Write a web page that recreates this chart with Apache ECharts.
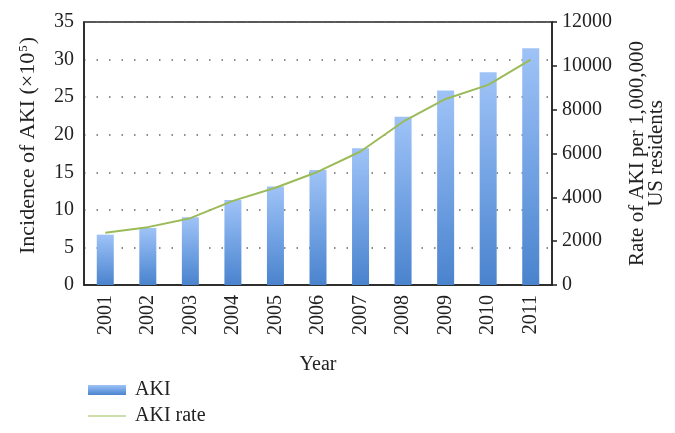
<!DOCTYPE html>
<html><head><meta charset="utf-8">
<script src="https://cdn.jsdelivr.net/npm/echarts@6/dist/echarts.min.js"></script>
<style>html,body{margin:0;padding:0;background:#fff}#c{width:675px;height:433px}</style>
</head><body><div id="c"></div>
<script>
const years = ['2001','2002','2003','2004','2005','2006','2007','2008','2009','2010','2011'];
const akiIncidence = [6.7, 7.6, 9.0, 11.3, 13.1, 15.3, 18.2, 22.4, 25.9, 28.3, 31.5];
const akiRate = [2380, 2640, 3050, 3840, 4440, 5170, 6090, 7450, 8490, 9130, 10280];
const leftTicks = [0, 5, 10, 15, 20, 25, 30, 35];
const rightTicks = [0, 2000, 4000, 6000, 8000, 10000, 12000];

const F = 'Liberation Serif';
const TXT = '#222';
const chart = echarts.init(document.getElementById('c'), null, {renderer: 'canvas'});
const legendCommon = {left: 83, itemWidth: 38, itemHeight: 10, itemGap: 12, textStyle: {fontFamily: F, fontSize: 20, color: TXT, padding: [0, 0, 0, 4]}};
chart.setOption({
  animation: false,
  textStyle: {fontFamily: F, color: TXT},
  grid: {left: 84, right: 123, top: 22, bottom: 148, show: true, borderColor: TXT, borderWidth: 1.5, backgroundColor: 'transparent'},
  legend: [
    Object.assign({top: 375, data: [{name: 'AKI', icon: 'rect'}]}, legendCommon),
    Object.assign({top: 401, data: [{name: 'AKI rate', icon: 'path://M0,0 L38,0 L38,1 L0,1 Z', itemStyle: {color: '#9bbb59'}}]}, legendCommon)
  ],
  xAxis: {
    type: 'category', data: years,
    name: 'Year', nameLocation: 'middle', nameGap: 70,
    nameTextStyle: {fontFamily: F, fontSize: 20, color: TXT},
    axisLine: {lineStyle: {color: TXT, width: 1.5}},
    axisTick: {show: false},
    axisLabel: {rotate: 90, fontFamily: F, fontSize: 20, color: TXT, margin: 10}
  },
  yAxis: [
    {
      type: 'value', min: leftTicks[0], max: leftTicks[leftTicks.length-1], interval: 5,
      name: '{a|Incidence of AKI (×10}{s|5}{a|)}', nameLocation: 'middle', nameGap: 44, nameRotate: 90,
      nameTextStyle: {padding: [0, 0, 0, 16], rich: {a: {fontFamily: F, fontSize: 22, color: TXT}, s: {fontFamily: F, fontSize: 13, color: TXT, verticalAlign: 'top', padding: [0,1,10,1]}}},
      axisLine: {show: true, lineStyle: {color: TXT, width: 1.5}},
      axisTick: {show: false},
      axisLabel: {fontFamily: F, fontSize: 20, color: TXT, margin: 10},
      splitLine: {show: true, lineStyle: {color: '#666', width: 1.5, type: [1.5, 11]}}
    },
    {
      type: 'value', min: rightTicks[0], max: rightTicks[rightTicks.length-1], interval: 2000,
      name: 'Rate of AKI per 1,000,000\nUS residents', nameLocation: 'middle', nameGap: 76, nameRotate: 90,
      nameTextStyle: {fontFamily: F, fontSize: 21, color: TXT, lineHeight: 19},
      axisLine: {show: true, lineStyle: {color: TXT, width: 1.5}},
      axisTick: {show: true, length: 5, lineStyle: {color: TXT, width: 1.5}},
      axisLabel: {fontFamily: F, fontSize: 20, color: TXT, margin: 10, formatter: v => String(v)},
      splitLine: {show: false}
    }
  ],
  series: [
    {
      name: 'AKI', type: 'bar', yAxisIndex: 0, data: akiIncidence, barWidth: 17,
      itemStyle: {color: new echarts.graphic.LinearGradient(0, 0, 0, 1, [
        {offset: 0, color: '#9fc3f7'}, {offset: 0.55, color: '#6fa0e2'}, {offset: 1, color: '#4a83cd'}
      ])}
    },
    {
      name: 'AKI rate', type: 'line', yAxisIndex: 1, data: akiRate, symbol: 'none',
      lineStyle: {color: '#9bbb59', width: 2}, itemStyle: {color: '#9bbb59'}
    }
  ]
});
</script></body></html>
